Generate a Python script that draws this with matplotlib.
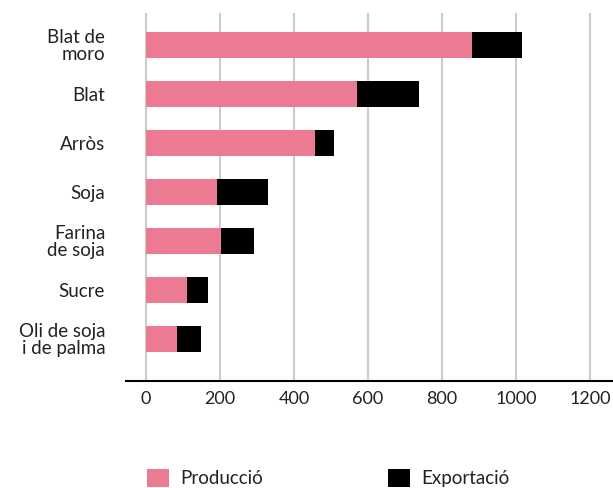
import matplotlib
matplotlib.use("Agg")
import matplotlib.pyplot as plt

categories = ["Blat de\nmoro", "Blat", "Arròs", "Soja", "Farina\nde soja", "Sucre", "Oli de soja\ni de palma"]
produccio = [882, 569, 457, 191, 203, 112, 85]
exportacio = [135, 170, 50, 140, 90, 56, 64]
xticks = [0, 200, 400, 600, 800, 1000, 1200]

plt.rcParams['font.family'] = ['Lato', 'DejaVu Sans']

fig = plt.figure(figsize=(6.13, 4.88), dpi=100)
ax = fig.add_axes([126/613, 1-381/488, 1-126/613, (381-13)/488])

pos = list(range(len(categories)))
ax.barh(pos, produccio, height=0.53, color='#ec7a93', label='Producció', zorder=3)
ax.barh(pos, exportacio, left=produccio, height=0.53, color='#000000', label='Exportació', zorder=3)

ax.set_xlim(-54, 1262)
ax.set_ylim(6.86, -0.65)
ax.set_xticks(xticks)
ax.set_xticklabels([str(v) for v in xticks], fontsize=13, color='#222222')
ax.set_yticks(pos)
ax.set_yticklabels(categories, fontsize=13.5, color='#222222', linespacing=1.0)
ax.tick_params(axis='y', length=0, pad=15)
ax.tick_params(axis='x', length=0, pad=7)
ax.grid(axis='x', color='#cccccc', linewidth=1.5, zorder=0)
for s in ['top', 'right', 'left']:
    ax.spines[s].set_visible(False)
ax.spines['bottom'].set_linewidth(1.5)
ax.spines['bottom'].set_color('#000000')

fig.legend(loc='center left', bbox_to_anchor=(147/613, 1-478/488), ncol=2,
           frameon=False, fontsize=13.5, handlelength=1.17, handleheight=1.17,
           handletextpad=0.59, columnspacing=6.7, borderaxespad=0, borderpad=0,
           labelcolor='#222222')

fig.savefig('out.png', dpi=100)
